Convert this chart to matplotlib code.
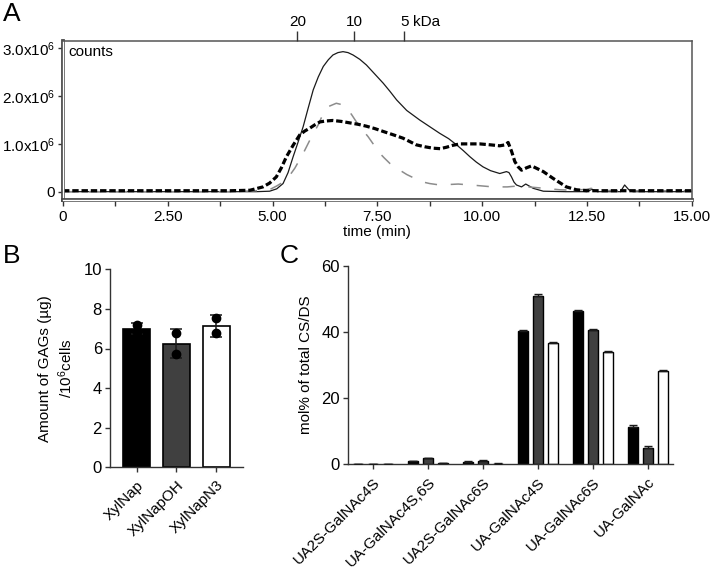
import matplotlib
matplotlib.use("Agg")
import matplotlib.pyplot as plt
import matplotlib.patheffects as pe
import numpy as np

plt.rcParams['font.family'] = ['Liberation Sans', 'DejaVu Sans']
plt.rcParams['mathtext.fontset'] = 'custom'
plt.rcParams['mathtext.rm'] = 'Liberation Sans'
plt.rcParams['mathtext.it'] = 'Liberation Sans:italic'
plt.rcParams['mathtext.bf'] = 'Liberation Sans:bold'

# ---------------- Panel A data (time in min, counts in 1e6) ----------------
t_solid = [0, 2.0, 4.0, 4.6, 4.93, 5.1, 5.25, 5.37, 5.49, 5.61, 5.73, 5.85, 5.97, 6.09,
           6.21, 6.33, 6.44, 6.56, 6.68, 6.8, 6.92, 7.08, 7.24, 7.44, 7.64, 7.8, 7.96,
           8.2, 8.51, 8.75, 8.99, 9.2, 9.39, 9.55, 9.71, 9.86, 10.02, 10.2, 10.42,
           10.58, 10.64, 10.7, 10.76, 10.82, 10.94, 11.04, 11.12, 11.22, 11.46, 12.0,
           12.5, 12.62, 12.75, 13.3, 13.4, 13.5, 13.6, 15.0]
v_solid = [0.0, 0.0, 0.0, 0.0, 0.01, 0.06, 0.17, 0.4, 0.73, 1.04, 1.36, 1.75, 2.13, 2.4,
           2.62, 2.76, 2.86, 2.91, 2.93, 2.91, 2.86, 2.77, 2.65, 2.46, 2.27, 2.1, 1.92,
           1.7, 1.5, 1.36, 1.22, 1.11, 0.98, 0.86, 0.73, 0.62, 0.52, 0.44, 0.38,
           0.42, 0.4, 0.31, 0.2, 0.14, 0.1, 0.16, 0.12, 0.07, 0.01, 0.0,
           0.0, 0.05, 0.0, 0.0, 0.14, 0.04, 0.0, 0.0]

t_dash = [0, 2.0, 4.0, 4.46, 4.77, 4.93, 5.09, 5.21, 5.33, 5.49, 5.65, 5.77, 5.89, 6.01,
          6.13, 6.28, 6.44, 6.64, 6.84, 7.04, 7.24, 7.44, 7.64, 7.88, 8.11, 8.43, 8.63,
          8.83, 9.0, 9.15, 9.3, 9.47, 9.7, 9.94, 10.2, 10.42, 10.55, 10.62, 10.7, 10.78,
          10.86, 10.94, 11.06, 11.18, 11.32, 11.46, 11.69, 11.85, 12.01, 12.25, 12.5, 15.0]
v_dash = [0.02, 0.02, 0.02, 0.03, 0.1, 0.18, 0.31, 0.5, 0.73, 0.97, 1.19, 1.27, 1.33, 1.4,
          1.46, 1.48, 1.49, 1.47, 1.44, 1.41, 1.37, 1.32, 1.26, 1.19, 1.12, 0.98, 0.94,
          0.91, 0.9, 0.93, 0.97, 1.0, 1.0, 1.0, 0.98, 0.96, 0.98, 1.03, 0.85, 0.63,
          0.52, 0.45, 0.5, 0.54, 0.48, 0.42, 0.28, 0.19, 0.1, 0.04, 0.02, 0.02]

t_gray = [0, 2.0, 4.0, 4.9, 5.1, 5.25, 5.4, 5.53, 5.73, 5.93, 6.09, 6.2, 6.33, 6.52, 6.66,
          6.76, 6.88, 7.0, 7.14, 7.28, 7.4, 7.52, 7.66, 7.8, 8.0, 8.2, 8.55, 8.75, 8.99,
          9.43, 9.87, 10.26, 10.6, 10.86, 11.1, 11.5, 11.85, 12.2, 12.5, 12.6, 12.75, 13.2, 15.0]
v_gray = [0.0, 0.0, 0.0, 0.03, 0.12, 0.2, 0.33, 0.49, 0.8, 1.15, 1.4, 1.62, 1.78, 1.85, 1.82,
          1.74, 1.62, 1.46, 1.3, 1.15, 1.0, 0.84, 0.71, 0.59, 0.47, 0.36, 0.21, 0.17, 0.14,
          0.16, 0.13, 0.1, 0.1, 0.12, 0.1, 0.07, 0.04, 0.03, 0.05, 0.07, 0.03, 0.02, 0.02]

kda_pos = [5.59, 6.94, 8.14]
kda_labels = ['20', '10', '5']

# ---------------- Panel B data ----------------
samples = ['XylNap', 'XylNapOH', 'XylNapN3']
gag_mean = [7.0, 6.22, 7.15]
gag_err_lo = [0.28, 0.72, 0.55]
gag_err_hi = [0.28, 0.75, 0.55]
gag_pts = [[7.17, 6.83], [6.77, 5.70], [7.56, 6.80]]
sample_colors = ['#000000', '#404040', '#ffffff']

# ---------------- Panel C data ----------------
disacch = ['UA2S-GalNAc4S', 'UA-GalNAc4S,6S', 'UA2S-GalNAc6S',
           'UA-GalNAc4S', 'UA-GalNAc6S', 'UA-GalNAc']
xylnap_mol = [0.0, 0.9, 0.8, 40.2, 46.2, 11.3]
xylnapoh_mol = [0.0, 1.8, 1.1, 50.9, 40.5, 5.0]
xylnapn3_mol = [0.0, 0.3, 0.2, 36.7, 33.9, 28.1]
xylnap_err = [0.0, 0.1, 0.1, 0.4, 0.3, 0.5]
xylnapoh_err = [0.0, 0.1, 0.1, 0.7, 0.3, 0.5]
xylnapn3_err = [0.0, 0.05, 0.05, 0.2, 0.2, 0.3]

W, H = 716, 570
fig = plt.figure(figsize=(W / 100, H / 100), dpi=100)

def rect(l, t, r, b):
    return [l / W, (H - b) / H, (r - l) / W, (b - t) / H]

axis_col = '#333333'
fs = 11

# ================= Panel A =================
axA = fig.add_axes(rect(63, 40.7, 691.7, 200))
axA.plot(t_solid, v_solid, color='#1a1a1a', lw=0.9)
axA.plot(t_gray, v_gray, color='#8c8c8c', lw=1.1, dashes=(8, 9))
axA.plot(t_dash, v_dash, color='#000000', lw=2.3, dashes=(2.0, 0.9))
axA.set_xlim(0, 15)
axA.set_ylim(-0.174, 3.159)
axA.set_xticks(np.arange(0, 15.01, 2.5))
axA.set_xticklabels(['0', '2.50', '5.00', '7.50', '10.00', '12.50', '15.00'])
axA.set_xticks(np.arange(1.25, 15, 2.5), minor=True)
axA.set_yticks([0, 1, 2, 3])
axA.set_yticklabels(['0', '1.0x10$^{6}$', '2.0x10$^{6}$', '3.0x10$^{6}$'])
axA.tick_params(axis='both', which='both', direction='out', length=3.6, width=1.0,
                color=axis_col, labelsize=fs, pad=2)
axA.tick_params(axis='x', which='both', length=4.0, pad=3)
for s in ['top', 'right']:
    axA.spines[s].set_color('#555555')
    axA.spines[s].set_linewidth(1.1)
for s in ['left', 'bottom']:
    axA.spines[s].set_color('white')
    axA.spines[s].set_linewidth(1.0)
    axA.spines[s].set_path_effects([pe.Stroke(linewidth=2.7, foreground='#444444'),
                                    pe.Stroke(linewidth=1.0, foreground='white')])
axA.set_xlabel('time (min)', fontsize=fs, labelpad=1)
axA.text(0.008, 0.97, 'counts', transform=axA.transAxes, ha='left', va='top', fontsize=fs)

axT = axA.twiny()
axT.set_xlim(0, 15)
axT.set_xticks(kda_pos)
axT.set_xticklabels(kda_labels)
axT.tick_params(axis='x', direction='out', length=7.2, width=1.0, color=axis_col,
                labelsize=fs, pad=1)
for s in axT.spines.values():
    s.set_visible(False)
axT.text(kda_pos[-1] + 0.2, 1.0, 'kDa', transform=axT.get_xaxis_transform(),
         ha='left', va='bottom', fontsize=fs)
# shift via offset points
axT.texts[-1].set_y(1.0)
from matplotlib.transforms import offset_copy
axT.texts[-1].set_transform(offset_copy(axT.get_xaxis_transform(), fig=fig, x=0, y=8.2, units='points'))

# ================= Panel B =================
axB = fig.add_axes(rect(110, 269.3, 242.7, 467.3))
xb = np.arange(len(samples))
axB.bar(xb, gag_mean, width=0.68, color=sample_colors, edgecolor='black', linewidth=1.2, zorder=2)
axB.errorbar(xb, gag_mean, yerr=[gag_err_lo, gag_err_hi], fmt='none', ecolor='#1a1a1a',
             elinewidth=1.1, capsize=4.5, capthick=1.1, zorder=3)
for i, pts in enumerate(gag_pts):
    axB.plot([xb[i]] * len(pts), pts, 'o', color='black', ms=6, zorder=4)
axB.set_xlim(-0.67, 2.67)
axB.set_ylim(0, 10)
axB.set_yticks([0, 2, 4, 6, 8, 10])
axB.set_xticks(xb)
axB.set_xticklabels(samples, rotation=45, ha='right', rotation_mode='anchor')
axB.tick_params(axis='both', direction='out', length=3.8, width=1.0, color=axis_col,
                labelsize=fs + 1, pad=2)
axB.tick_params(axis='x', labelsize=fs, pad=4)
for s in ['top', 'right']:
    axB.spines[s].set_visible(False)
for s in ['left', 'bottom']:
    axB.spines[s].set_color(axis_col)
    axB.spines[s].set_linewidth(1.0)
axB.set_ylabel('Amount of GAGs (µg)\n/10$^{6}$cells', fontsize=fs, labelpad=6, linespacing=1.3)

# ================= Panel C =================
axC = fig.add_axes(rect(347.7, 265.7, 672.7, 464.3))
xc = np.arange(len(disacch))
bw = 0.187
off = 0.275
series = [(xylnap_mol, xylnap_err, '#000000'), (xylnapoh_mol, xylnapoh_err, '#404040'),
          (xylnapn3_mol, xylnapn3_err, '#ffffff')]
for k, (vals, errs, col) in enumerate(series):
    xs = xc + (k - 1) * off
    axC.bar(xs, vals, width=bw, color=col, edgecolor='black', linewidth=1.0, zorder=2)
    axC.errorbar(xs, vals, yerr=[np.zeros(len(errs)), errs], fmt='none', ecolor='#1a1a1a',
                 elinewidth=1.0, capsize=3.2, capthick=1.0, zorder=3)
axC.set_xlim(-0.46, 5.45)
axC.set_ylim(0, 60)
axC.set_yticks([0, 20, 40, 60])
axC.set_xticks(xc)
axC.set_xticklabels(disacch, rotation=45, ha='right', rotation_mode='anchor')
axC.tick_params(axis='both', direction='out', length=3.8, width=1.0, color=axis_col,
                labelsize=fs + 1, pad=2)
axC.tick_params(axis='x', labelsize=fs, pad=4)
for s in ['top', 'right']:
    axC.spines[s].set_visible(False)
for s in ['left', 'bottom']:
    axC.spines[s].set_color(axis_col)
    axC.spines[s].set_linewidth(1.0)
axC.set_ylabel('mol% of total CS/DS', fontsize=fs, labelpad=6)

# Panel letters
fig.text(3 / W, 1 - 2 / H, 'A', fontsize=19, ha='left', va='top')
fig.text(3 / W, 1 - 244 / H, 'B', fontsize=19, ha='left', va='top')
fig.text(280 / W, 1 - 244 / H, 'C', fontsize=19, ha='left', va='top')

fig.savefig('out.png', dpi=100)
